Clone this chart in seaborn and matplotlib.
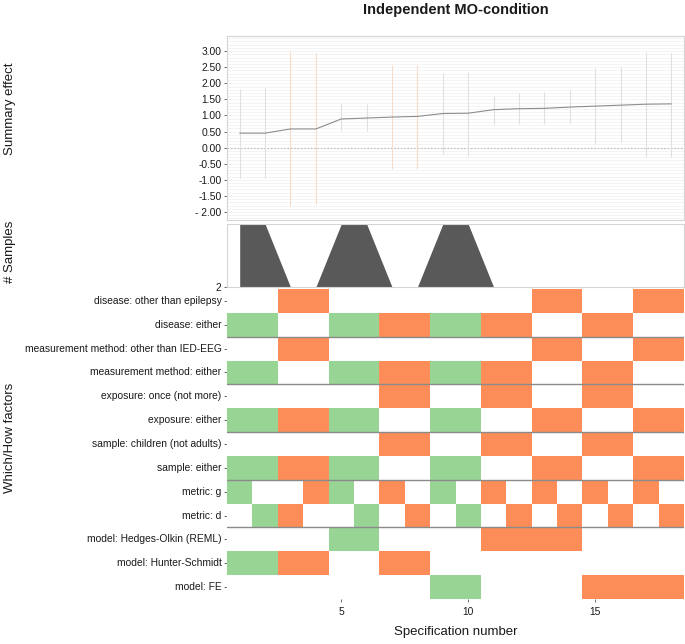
import matplotlib
matplotlib.use('Agg')
import matplotlib.pyplot as plt
from matplotlib.colors import ListedColormap
import seaborn as sns
import pandas as pd
import numpy as np

# values
specs = list(range(1, 19))
summary_effect = [0.45, 0.45, 0.58, 0.58, 0.89, 0.92, 0.95, 0.97, 1.06,
                  1.07, 1.18, 1.21, 1.22, 1.26, 1.29, 1.32, 1.35, 1.36]
ci_lower = [-0.95, -0.95, -1.82, -1.75, 0.53, 0.51, -0.66, -0.66, -0.21,
            -0.27, 0.74, 0.72, 0.72, 0.76, 0.11, 0.16, -0.28, -0.28]
ci_upper = [1.82, 1.90, 3.01, 2.95, 1.38, 1.35, 2.57, 2.58, 2.33,
            2.35, 1.61, 1.69, 1.72, 1.79, 2.46, 2.51, 2.97, 2.95]
ci_group = ['grey', 'grey', 'orange', 'orange', 'grey', 'grey', 'orange', 'orange', 'grey',
            'grey', 'grey', 'grey', 'grey', 'grey', 'grey', 'grey', 'grey', 'grey']
n_samples = [3, 3, 2, 2, 3, 3, 2, 2, 3, 3, 2, 2, 2, 2, 2, 2, 2, 2]

y_ticks = [3.0, 2.5, 2.0, 1.5, 1.0, 0.5, 0.0, -0.5, -1.0, -1.5, -2.0]
y_ticklabels = ['3.00', '2.50', '2.00', '1.50', '1.00', '0.50', '0.00',
                '-0.50', '-1.00', '-1.50', '- 2.00']

factor_labels = [
    'disease: other than epilepsy',
    'disease: either',
    'measurement method: other than IED-EEG',
    'measurement method: either',
    'exposure: once (not more)',
    'exposure: either',
    'sample: children (not adults)',
    'sample: either',
    'metric: g',
    'metric: d',
    'model: Hedges-Olkin (REML)',
    'model: Hunter-Schmidt',
    'model: FE',
]
# g = green, o = orange, . = empty; one character per specification
factor_tiles = [
    '..oo........oo..oo',
    'gg..ggooggoo..oo..',
    '..oo........oo..oo',
    'gg..ggooggoo..oo..',
    '......oo..oo..oo..',
    'ggoogg..gg..oo..oo',
    '......oo..oo..oo..',
    'ggoogg..gg..oo..oo',
    'g..og.o.g.o.o.o.o.',
    '.go..g.o.g.o.o.o.o',
    '....gg....oooo....',
    'ggoo..oo..........',
    '........gg....oooo',
]
group_breaks = [2, 4, 6, 8, 10]

GREEN = '#98d594'
ORANGE = '#fc8d59'
TXT = '#1a1a1a'

sns.set_theme(style='white')
plt.rcParams['font.family'] = ['Liberation Sans', 'DejaVu Sans']

fig = plt.figure(figsize=(6.85, 6.44), dpi=100)
L, W = 227 / 685, 457 / 685
ax1 = fig.add_axes([L, 1 - 220 / 644, W, 184 / 644])
ax2 = fig.add_axes([L, 1 - 287 / 644, W, 63 / 644])
ax3 = fig.add_axes([L, 1 - 599 / 644, W, 310 / 644])

# --- summary effect panel
df = pd.DataFrame({'spec': specs, 'effect': summary_effect,
                   'lo': ci_lower, 'hi': ci_upper, 'grp': ci_group})
for g, col in [('grey', '#e0e0e0'), ('orange', '#f6dccb')]:
    sub = df[df['grp'] == g]
    ax1.vlines(sub['spec'], sub['lo'], sub['hi'], color=col, lw=0.8, zorder=2)
sns.lineplot(data=df, x='spec', y='effect', ax=ax1, color='#8c8c8c', lw=0.8, zorder=3)
ax1.axhline(0, color='#bbbbbb', lw=0.8, ls=(0, (1.5, 1.5)), zorder=1)
for yy in np.arange(-2.2, 3.5, 0.1):
    ax1.axhline(yy, color='#f0f0f0', lw=0.5, zorder=0)
ax1.set_xlim(0.5, 18.5)
ax1.set_ylim(-2.25, 3.47)
ax1.set_yticks(y_ticks)
ax1.set_yticklabels(y_ticklabels)
ax1.set_xticks([])
ax1.set_xlabel('')
ax1.set_ylabel('')

# --- number of samples panel
ax2.fill_between(specs, n_samples, 2, color='#595959', lw=0)
ax2.set_xlim(0.5, 18.5)
ax2.set_ylim(2, 3)
ax2.set_yticks([2])
ax2.set_yticklabels(['2'])
ax2.set_xticks([])

for ax in (ax1, ax2):
    for s in ax.spines.values():
        s.set_color('#d5d5d5')
        s.set_linewidth(0.8)

# --- factor tiles
code = {'.': 0, 'g': 1, 'o': 2}
mat = pd.DataFrame([[code[c] for c in row] for row in factor_tiles],
                   index=factor_labels, columns=specs)
sns.heatmap(mat, ax=ax3, cmap=ListedColormap(['white', GREEN, ORANGE]),
            vmin=-0.5, vmax=2.5, cbar=False, linewidths=0)
for b in group_breaks:
    ax3.axhline(b, color='#8a8a8a', lw=1.0)
ax3.set_xticks([4.5, 9.5, 14.5])
ax3.set_xticklabels(['5', '10', '15'], rotation=0)
ax3.set_yticks(np.arange(len(factor_labels)) + 0.5)
ax3.set_yticklabels(factor_labels, rotation=0)
ax3.set_xlabel('Specification number', fontsize=9.5, color=TXT, labelpad=7)
ax3.set_ylabel('')
for s in ax3.spines.values():
    s.set_visible(False)

for ax in (ax1, ax2, ax3):
    ax.tick_params(axis='both', which='both', length=2.5, width=0.6, color='#555555',
                   labelsize=7.4, labelcolor=TXT, pad=1.5, left=True)
ax3.tick_params(axis='x', bottom=True, labelsize=7.4, pad=3)

fig.text(0.014, 1 - 109 / 644, 'Summary effect', rotation=90, ha='center', va='center',
         fontsize=9.5, color=TXT)
fig.text(0.014, 1 - 252 / 644, '# Samples', rotation=90, ha='center', va='center',
         fontsize=9.5, color=TXT)
fig.text(0.014, 1 - 438 / 644, 'Which/How factors', rotation=90, ha='center', va='center',
         fontsize=9.5, color=TXT)
fig.text(L + W / 2, 1 - 10 / 644, 'Independent MO-condition', ha='center', va='center',
         fontsize=10.5, fontweight='bold', color=TXT)

fig.savefig('out.png', dpi=100)
plt.close(fig)
